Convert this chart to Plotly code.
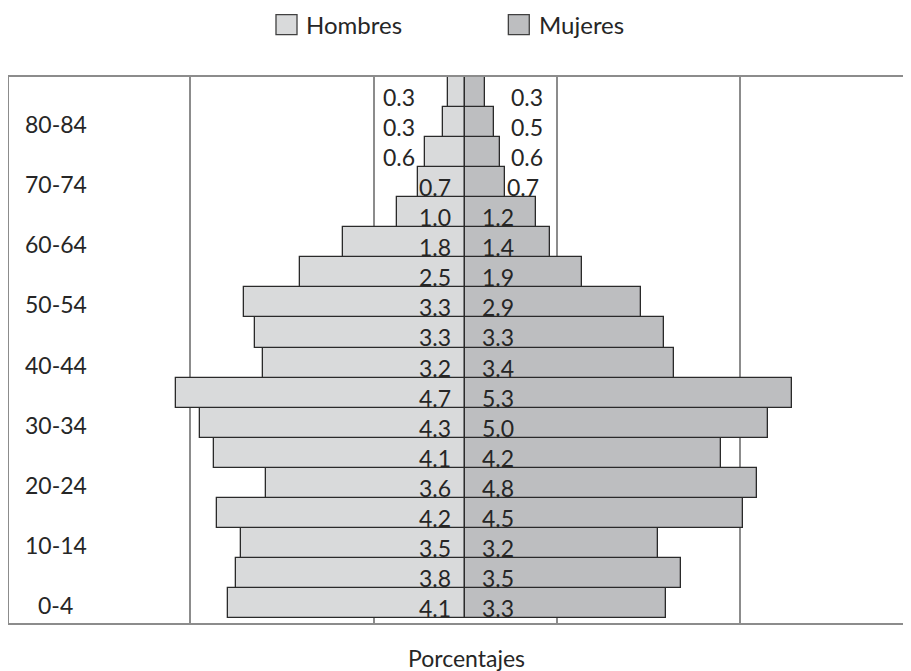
import plotly.graph_objects as go

# Grupos de edad (de abajo hacia arriba)
grupos = ["0-4", "5-9", "10-14", "15-19", "20-24", "25-29", "30-34", "35-39", "40-44",
          "45-49", "50-54", "55-59", "60-64", "65-69", "70-74", "75-79", "80-84", "85+"]
# solo se rotula uno de cada dos grupos
grupos_rotulo = ["0-4", "10-14", "20-24", "30-34", "40-44", "50-54", "60-64", "70-74", "80-84"]

# largo de las barras y etiquetas que muestra el original
hombres_barra = [3.89, 3.75, 3.67, 4.06, 3.26, 4.11, 4.34, 4.73, 3.31,
                 3.45, 3.63, 2.71, 2.00, 1.12, 0.77, 0.65, 0.36, 0.28]
hombres_etiqueta = ["4.1", "3.8", "3.5", "4.2", "3.6", "4.1", "4.3", "4.7", "3.2",
                    "3.3", "3.3", "2.5", "1.8", "1.0", "0.7", "0.6", "0.3", "0.3"]
mujeres_barra = [3.29, 3.54, 3.17, 4.55, 4.79, 4.20, 4.96, 5.36, 3.43,
                 3.27, 2.88, 1.92, 1.39, 1.17, 0.66, 0.58, 0.48, 0.33]
mujeres_etiqueta = ["3.3", "3.5", "3.2", "4.5", "4.8", "4.2", "5.0", "5.3", "3.4",
                    "3.3", "2.9", "1.9", "1.4", "1.2", "0.7", "0.6", "0.5", "0.3"]

FUENTE = "Lato"
TAM = 23
COLOR_H = "#d9dadb"
COLOR_M = "#bdbec0"
BORDE = "#2a2a2a"
GRIS = "#8c8c8c"

fig = go.Figure()
fig.add_trace(go.Bar(y=grupos, x=[-v for v in hombres_barra], orientation="h",
                     name="Hombres", marker=dict(color=COLOR_H, line=dict(color=BORDE, width=1.3)),
                     hoverinfo="skip"))
fig.add_trace(go.Bar(y=grupos, x=mujeres_barra, orientation="h",
                     name="Mujeres", marker=dict(color=COLOR_M, line=dict(color=BORDE, width=1.3)),
                     hoverinfo="skip"))

anot = []
fuente = dict(family=FUENTE, size=TAM, color="#262626")

# etiquetas de datos
for g, hb, ht, mb, mt in zip(grupos, hombres_barra, hombres_etiqueta, mujeres_barra, mujeres_etiqueta):
    if hb < 0.7:
        a = dict(x=-0.81, xanchor="right", xshift=0)
    elif hb < 0.9:
        a = dict(x=-hb, xanchor="left", xshift=0)
    else:
        a = dict(x=0, xanchor="right", xshift=-13)
    anot.append(dict(y=g, text=ht, showarrow=False, yshift=-5, borderpad=0, font=fuente, **a))
    if mb < 0.6:
        a = dict(x=0.73, xanchor="left", xshift=0)
    elif mb < 0.9:
        a = dict(x=mb, xanchor="left", xshift=1)
    else:
        a = dict(x=0, xanchor="left", xshift=16)
    anot.append(dict(y=g, text=mt, showarrow=False, yshift=-5, borderpad=0, font=fuente, **a))

# rotulos de edad dentro del marco
for g in grupos_rotulo:
    anot.append(dict(xref="paper", x=0.0516, y=g, text=g, showarrow=False, xanchor="center",
                     yshift=-2, font=fuente))

# titulo del eje
anot.append(dict(xref="paper", yref="paper", x=0.5072, y=-0.064, text="Porcentajes",
                 showarrow=False, xanchor="center", yanchor="middle", font=fuente))

# leyenda dibujada a mano
formas = []
for nombre, color, x0, x1, xt in [("Hombres", COLOR_H, 0.2960, 0.3193, 0.3267),
                                   ("Mujeres", COLOR_M, 0.5536, 0.5768, 0.5854)]:
    formas.append(dict(type="rect", xref="paper", yref="paper", x0=x0, x1=x1,
                       y0=1.0775, y1=1.1141, fillcolor=color, line=dict(color="#404040", width=1.3)))
    anot.append(dict(xref="paper", yref="paper", x=xt, y=1.096, text=nombre, showarrow=False,
                     xanchor="left", yanchor="middle", font=dict(family=FUENTE, size=24, color="#262626")))

# la pagina tiene 8 px de margen en body: la figura se ajusta a lo que queda visible
fig.update_layout(
    width=903, height=663,
    margin=dict(l=1, r=0, t=69, b=48),
    barmode="relative", bargap=0,
    showlegend=False,
    plot_bgcolor="white", paper_bgcolor="white",
    annotations=anot, shapes=formas,
    font=dict(family=FUENTE, size=TAM, color="#262626"),
)
fig.update_xaxes(range=[-7.475, 7.311], tickvals=[-4.5, -1.5, 1.5, 4.5], showticklabels=False,
                 showgrid=True, gridcolor=GRIS, gridwidth=1.5, zeroline=False,
                 showline=True, linecolor=GRIS, linewidth=1.5, mirror=True, ticks="")
fig.update_yaxes(showticklabels=False, showgrid=False, showline=True, linecolor=GRIS,
                 linewidth=1.5, mirror=False, ticks="", categoryorder="array", categoryarray=grupos)

fig.write_html("out.html")
